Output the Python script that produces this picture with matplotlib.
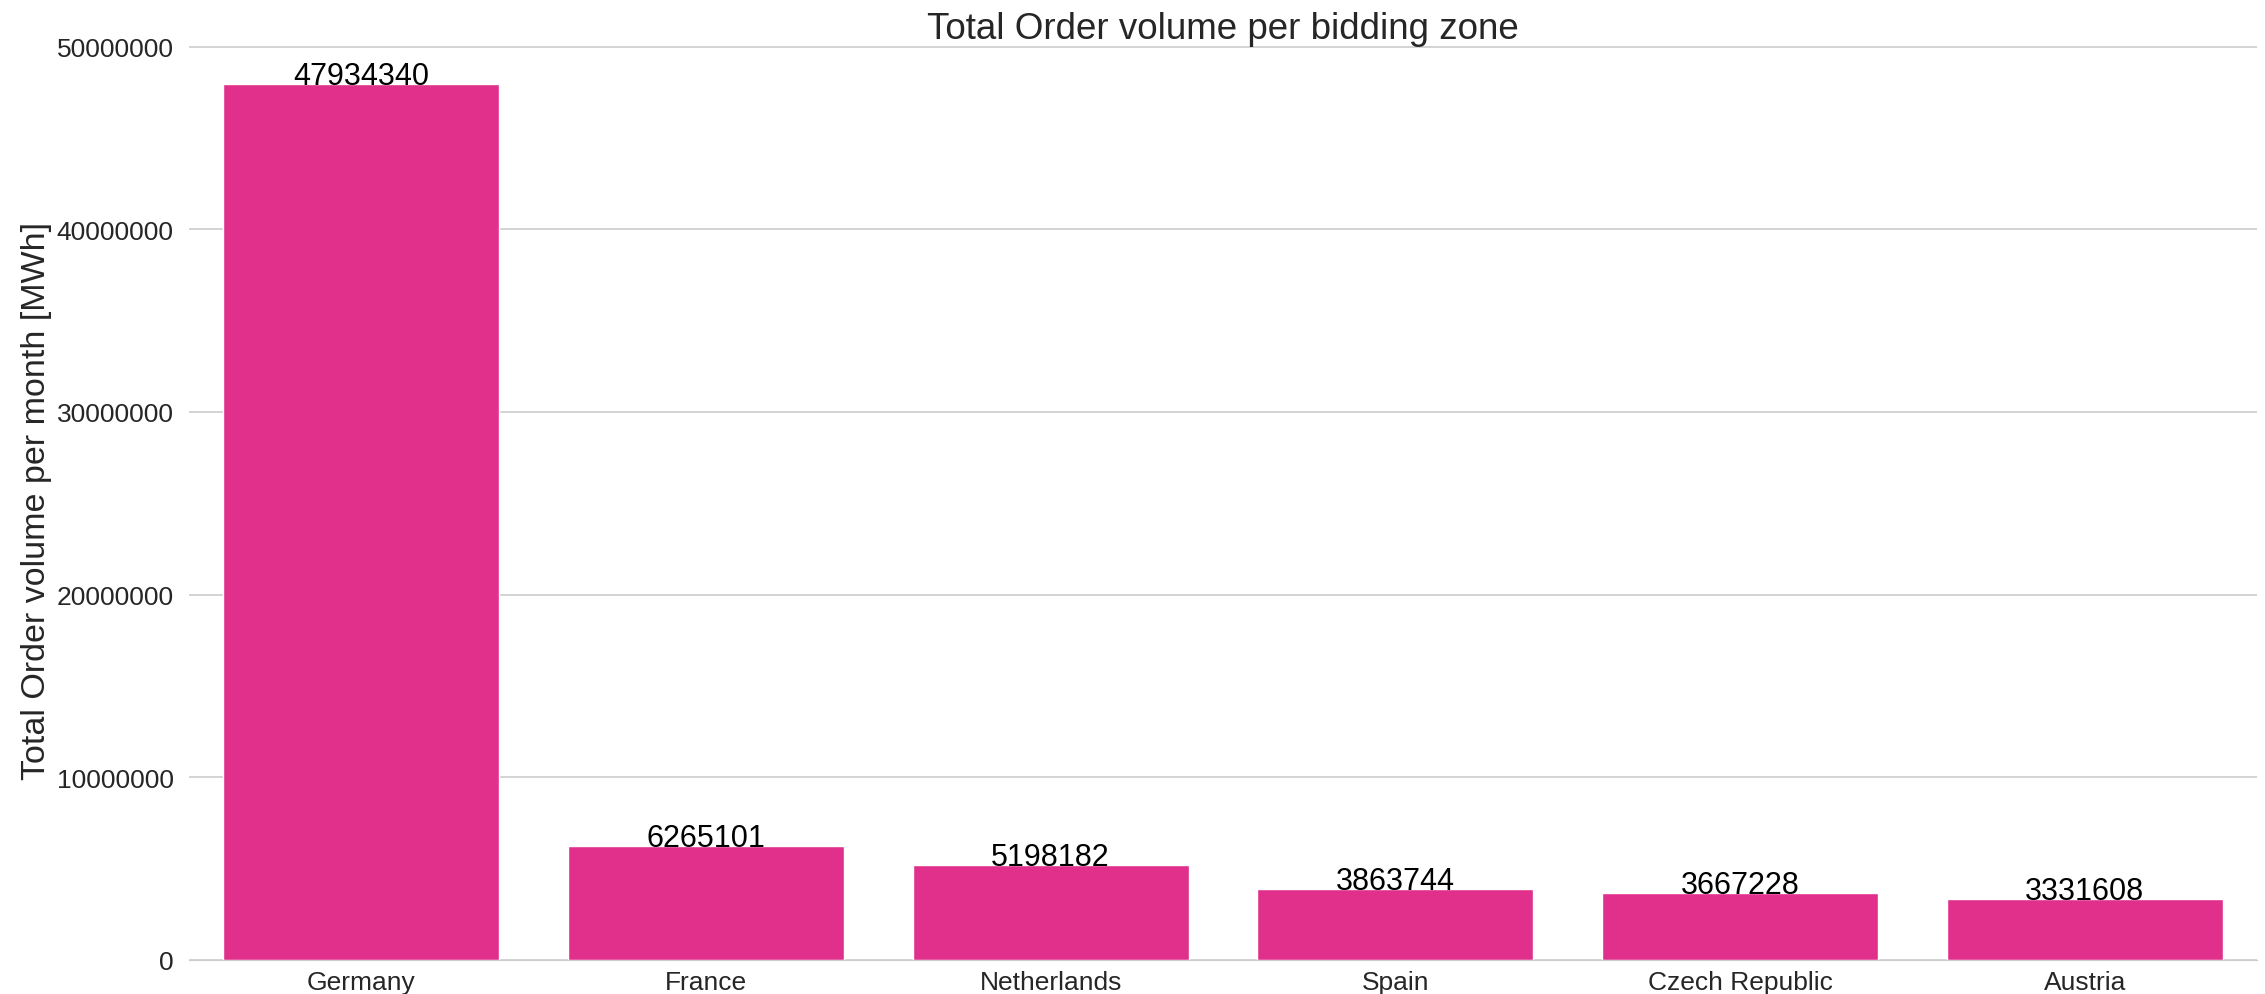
import numpy as np
import matplotlib
matplotlib.use("Agg")
import matplotlib.pyplot as plt
import seaborn as sns

zones = ["Germany", "France", "Netherlands", "Spain", "Czech Republic", "Austria"]
volumes = [47934340, 6265101, 5198182, 3863744, 3667228, 3331608]
yticks = [0, 10000000, 20000000, 30000000, 40000000, 50000000]

sns.set_style("whitegrid")
plt.rcParams["font.family"] = ["Liberation Sans", "DejaVu Sans"]

fig = plt.figure(figsize=(22.65, 9.95), dpi=100)
ax = fig.add_axes([0.0834, 0.0342, 0.9131, 0.924])

x = np.arange(len(zones))
bars = ax.bar(x, volumes, width=0.8, color="#E1308C", zorder=2)

for xi, v in zip(x, volumes):
    ax.text(xi, v, str(v), ha="center", va="baseline", fontsize=22, color="black", zorder=3)

ax.set_xlim(-0.5, len(zones) - 0.5)
ax.set_ylim(0, max(volumes) * 1.05)
ax.set_xticks(x)
ax.set_xticklabels(zones)
ax.set_yticks(yticks)
ax.set_yticklabels([str(t) for t in yticks])
ax.tick_params(axis="both", labelsize=19, colors=".15", length=0)
ax.tick_params(axis="y", pad=11)
ax.tick_params(axis="x", pad=7)
ax.xaxis.grid(False)
ax.yaxis.grid(True, color=".8", linewidth=1.2, zorder=0)

ax.set_ylabel("Total Order volume per month [MWh]", fontsize=24.5, color=".15", labelpad=3)
ax.set_title("Total Order volume per bidding zone", fontsize=26.5, color=".15", pad=2)

for s in ["left", "right", "top"]:
    ax.spines[s].set_visible(False)
ax.spines["bottom"].set_color(".8")

fig.savefig("out.png", dpi=100)
